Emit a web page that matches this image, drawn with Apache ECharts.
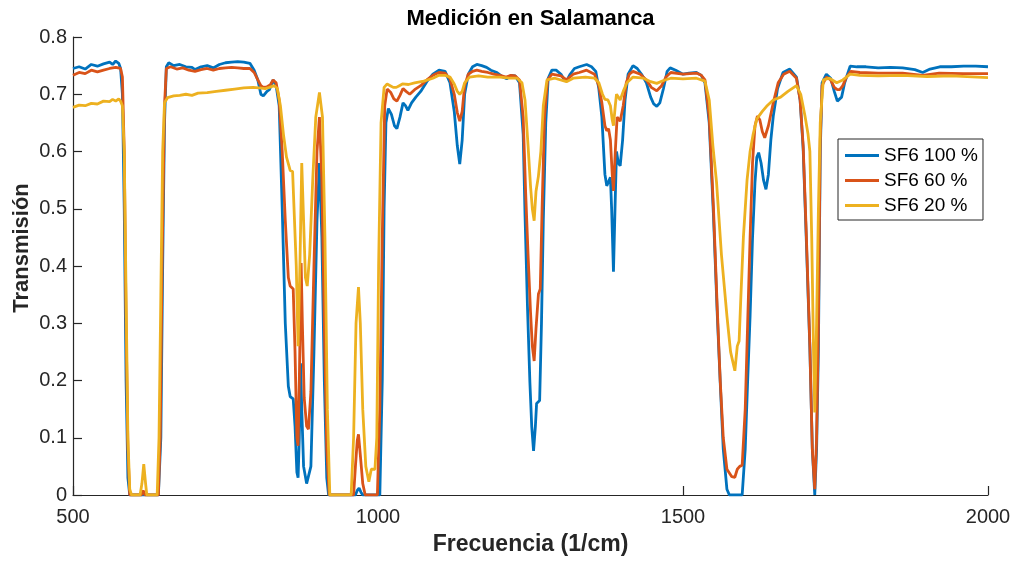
<!DOCTYPE html>
<html>
<head>
<meta charset="utf-8">
<script src="https://cdn.jsdelivr.net/npm/echarts@6/dist/echarts.min.js"></script>
<style>html,body{margin:0;padding:0;background:#fff}#c{width:1014px;height:561px}</style>
</head>
<body>
<div id="c"></div>
<script>
const seriesNames = ['SF6 100 %', 'SF6 60 %', 'SF6 20 %'];
const xTicks = [500, 1000, 1500, 2000];
const yTicks = [0, 0.1, 0.2, 0.3, 0.4, 0.5, 0.6, 0.7, 0.8];

const blueX = [500,510,520,530,540,550,560,565,570,575,578,581,584,587,590,593,640,644,647,650,653,657,665,675,685,695,700,710,720,730,740,750,760,770,780,790,797,803,808,812,818,822,828,833,838,843,848,853,856,861,864,867,869,871,873,875,878,883,886,890,895,900,904,908,912,916,919,963,966,969,972,975,1003,1007,1010,1013,1017,1022,1027,1031,1036,1041,1045,1049,1055,1062,1070,1080,1090,1100,1110,1118,1125,1130,1134,1138,1142,1148,1155,1162,1170,1178,1185,1195,1205,1211,1218,1225,1232,1238,1241,1245,1249,1252,1255,1258,1260,1265,1268,1271,1275,1279,1285,1292,1300,1305,1309,1315,1322,1330,1342,1350,1357,1362,1367,1372,1375,1378,1381,1383,1386,1389,1391,1394,1397,1401,1405,1410,1418,1425,1432,1440,1447,1452,1457,1462,1468,1474,1479,1488,1500,1510,1522,1530,1536,1543,1550,1556,1561,1566,1572,1576,1597,1602,1606,1610,1614,1618,1621,1624,1628,1632,1636,1640,1644,1648,1655,1664,1675,1686,1692,1697,1702,1708,1712,1716,1719,1722,1725,1728,1735,1742,1748,1753,1756,1760,1765,1774,1785,1800,1820,1840,1860,1880,1893,1905,1921,1940,1960,1980,2000];
const blueY = [0.745,0.748,0.744,0.752,0.749,0.753,0.756,0.752,0.758,0.754,0.745,0.70,0.5,0.2,0.03,0,0,0.1,0.4,0.65,0.748,0.755,0.750,0.752,0.748,0.747,0.743,0.748,0.750,0.746,0.752,0.755,0.756,0.757,0.756,0.754,0.742,0.725,0.700,0.697,0.705,0.708,0.725,0.715,0.68,0.5,0.3,0.19,0.172,0.168,0.12,0.04,0.03,0.1,0.23,0.15,0.05,0.02,0.018,0.05,0.25,0.48,0.58,0.45,0.2,0.03,0,0,0.008,0.012,0.005,0,0,0.2,0.5,0.65,0.675,0.665,0.645,0.640,0.66,0.685,0.68,0.672,0.685,0.695,0.705,0.722,0.735,0.742,0.74,0.72,0.67,0.61,0.578,0.62,0.70,0.735,0.748,0.752,0.75,0.747,0.742,0.738,0.73,0.727,0.733,0.732,0.72,0.63,0.49,0.33,0.197,0.12,0.077,0.12,0.16,0.165,0.3,0.48,0.65,0.728,0.742,0.742,0.735,0.726,0.723,0.735,0.745,0.748,0.752,0.748,0.74,0.71,0.66,0.56,0.54,0.54,0.555,0.50,0.39,0.52,0.60,0.58,0.575,0.62,0.69,0.735,0.75,0.745,0.735,0.72,0.695,0.683,0.679,0.685,0.71,0.74,0.746,0.742,0.735,0.737,0.738,0.733,0.72,0.65,0.487,0.32,0.197,0.08,0.01,0,0,0.08,0.2,0.313,0.45,0.546,0.59,0.598,0.58,0.55,0.534,0.56,0.62,0.662,0.71,0.738,0.744,0.73,0.69,0.604,0.45,0.255,0.08,0,0.08,0.255,0.6,0.72,0.735,0.728,0.705,0.688,0.685,0.695,0.72,0.749,0.748,0.748,0.746,0.747,0.746,0.743,0.738,0.744,0.748,0.748,0.749,0.749,0.748];

const redX = [500,510,520,530,540,550,560,570,578,581,584,587,590,593,612,615,618,640,643,646,650,653,660,670,680,690,700,710,720,730,740,750,760,770,780,790,797,803,808,812,818,823,828,833,838,843,848,853,856,861,864,867,869,871,874,876,879,883,886,890,895,900,904,908,912,916,920,960,963,966,968,971,975,979,999,1003,1007,1011,1015,1021,1026,1031,1036,1041,1046,1052,1060,1070,1080,1090,1100,1110,1118,1125,1130,1134,1138,1142,1148,1155,1162,1170,1180,1190,1200,1210,1218,1225,1232,1238,1242,1246,1250,1253,1256,1259,1263,1266,1269,1273,1278,1285,1300,1309,1320,1330,1342,1355,1362,1367,1372,1375,1378,1381,1384,1386,1389,1392,1397,1402,1407,1412,1418,1430,1440,1448,1457,1465,1472,1480,1500,1522,1530,1536,1543,1550,1556,1561,1566,1572,1580,1585,1589,1593,1597,1602,1606,1610,1614,1618,1622,1626,1630,1634,1640,1648,1656,1665,1675,1686,1692,1697,1702,1708,1712,1716,1719,1722,1725,1728,1735,1742,1748,1753,1757,1762,1768,1775,1790,1820,1860,1893,1920,1960,2000];
const redY = [0.733,0.738,0.736,0.742,0.739,0.742,0.745,0.747,0.745,0.73,0.6,0.3,0.08,0,0,0.008,0,0,0.1,0.4,0.68,0.745,0.748,0.744,0.746,0.742,0.74,0.743,0.745,0.742,0.745,0.746,0.747,0.746,0.745,0.745,0.738,0.725,0.715,0.712,0.713,0.716,0.725,0.72,0.69,0.6,0.48,0.38,0.365,0.36,0.25,0.1,0.086,0.2,0.405,0.3,0.17,0.12,0.115,0.18,0.4,0.6,0.66,0.55,0.3,0.08,0,0,0.05,0.095,0.106,0.07,0.02,0,0,0.15,0.45,0.68,0.709,0.703,0.692,0.688,0.698,0.71,0.705,0.70,0.708,0.715,0.725,0.733,0.738,0.737,0.727,0.70,0.668,0.653,0.67,0.715,0.735,0.74,0.742,0.74,0.738,0.735,0.733,0.73,0.733,0.732,0.725,0.66,0.53,0.42,0.32,0.26,0.234,0.29,0.351,0.36,0.5,0.66,0.725,0.735,0.732,0.725,0.735,0.738,0.742,0.735,0.715,0.685,0.645,0.636,0.64,0.62,0.56,0.531,0.6,0.66,0.653,0.68,0.72,0.735,0.74,0.735,0.725,0.712,0.706,0.715,0.73,0.738,0.735,0.737,0.733,0.725,0.66,0.5,0.33,0.2,0.1,0.045,0.032,0.031,0.045,0.05,0.052,0.15,0.3,0.45,0.58,0.645,0.662,0.655,0.635,0.624,0.645,0.685,0.72,0.735,0.74,0.728,0.69,0.61,0.46,0.26,0.08,0.01,0.1,0.3,0.62,0.715,0.73,0.725,0.712,0.708,0.708,0.715,0.73,0.74,0.738,0.737,0.737,0.733,0.737,0.736,0.736];

const yellowX = [500,510,520,530,540,550,560,565,570,575,578,581,584,587,590,593,596,610,613,616,619,621,638,641,644,647,650,655,665,675,685,695,705,720,735,750,765,780,795,805,815,822,830,835,840,845,850,854,856,860,863,866,869,872,875,878,881,884,888,893,898,904,909,913,917,921,956,960,964,968,971,975,980,985,989,995,998,1001,1005,1010,1015,1020,1025,1030,1035,1040,1050,1060,1075,1090,1100,1110,1118,1125,1130,1134,1138,1142,1150,1165,1180,1200,1215,1228,1236,1241,1246,1250,1253,1256,1259,1263,1267,1271,1277,1290,1309,1320,1340,1355,1362,1368,1372,1377,1381,1384,1386,1389,1391,1394,1397,1402,1408,1418,1435,1447,1457,1468,1480,1500,1522,1536,1543,1549,1555,1563,1572,1578,1585,1589,1592,1595,1599,1605,1610,1615,1621,1630,1637,1648,1660,1672,1686,1693,1700,1705,1708,1711,1714,1716,1719,1722,1725,1730,1740,1752,1762,1774,1790,1820,1860,1900,1940,2000];
const yellowY = [0.677,0.681,0.680,0.684,0.683,0.688,0.687,0.691,0.688,0.692,0.688,0.68,0.6,0.35,0.1,0.01,0,0,0.02,0.054,0.02,0,0,0.1,0.35,0.6,0.685,0.694,0.697,0.698,0.700,0.698,0.702,0.703,0.705,0.707,0.709,0.711,0.712,0.711,0.710,0.712,0.715,0.71,0.68,0.63,0.59,0.575,0.567,0.565,0.565,0.40,0.26,0.40,0.58,0.48,0.38,0.365,0.42,0.55,0.66,0.703,0.66,0.45,0.15,0,0,0.1,0.3,0.363,0.3,0.15,0.05,0.023,0.045,0.045,0.1,0.4,0.65,0.712,0.718,0.715,0.712,0.712,0.715,0.718,0.717,0.72,0.723,0.728,0.733,0.733,0.73,0.718,0.705,0.70,0.705,0.72,0.73,0.732,0.73,0.73,0.728,0.728,0.72,0.69,0.61,0.54,0.50,0.479,0.53,0.557,0.6,0.68,0.725,0.728,0.722,0.728,0.73,0.728,0.72,0.70,0.691,0.69,0.68,0.655,0.645,0.68,0.70,0.695,0.69,0.705,0.72,0.73,0.728,0.722,0.719,0.724,0.728,0.727,0.728,0.723,0.69,0.61,0.546,0.42,0.313,0.25,0.217,0.26,0.269,0.35,0.45,0.55,0.60,0.63,0.657,0.67,0.679,0.69,0.695,0.705,0.715,0.70,0.662,0.63,0.60,0.45,0.25,0.144,0.3,0.5,0.65,0.725,0.728,0.72,0.725,0.735,0.733,0.732,0.733,0.731,0.732,0.729];

const colors = ['#0072BD', '#D95319', '#EDB120'];
const font = "'Liberation Sans', Arial, Helvetica, sans-serif";
const axisColor = '#262626';

function pairs(xs, ys) { return xs.map((x, i) => [x, ys[i]]); }
const allData = [pairs(blueX, blueY), pairs(redX, redY), pairs(yellowX, yellowY)];

const chart = echarts.init(document.getElementById('c'), null, {renderer: 'canvas'});
chart.setOption({
  animation: false,
  backgroundColor: '#ffffff',
  color: colors,
  title: {
    text: 'Medición en Salamanca',
    left: 530.5,
    textAlign: 'center',
    top: 8,
    padding: 0,
    textStyle: {fontFamily: font, fontSize: 22, fontWeight: 'bold', color: '#000'}
  },
  legend: {
    orient: 'vertical',
    left: 838,
    top: 139,
    data: seriesNames,
    icon: 'rect',
    itemWidth: 34,
    itemHeight: 3,
    itemGap: 6,
    padding: [7, 5, 5, 7],
    borderColor: axisColor,
    borderWidth: 1,
    backgroundColor: '#fff',
    textStyle: {fontFamily: font, fontSize: 19, color: '#000', lineHeight: 19}
  },
  grid: {left: 73, right: 26, top: 37, bottom: 65, containLabel: false},
  xAxis: {
    type: 'value',
    min: xTicks[0],
    max: xTicks[xTicks.length - 1],
    interval: 500,
    name: 'Frecuencia (1/cm)',
    nameLocation: 'middle',
    nameGap: 38,
    nameTextStyle: {fontFamily: font, fontSize: 23, fontWeight: 'bold', color: axisColor},
    axisLine: {show: true, onZero: false, lineStyle: {color: axisColor, width: 1.2}},
    axisTick: {show: true, inside: true, length: 9, lineStyle: {color: axisColor, width: 1.2}},
    axisLabel: {fontFamily: font, fontSize: 20, color: axisColor, margin: 12,
      formatter: v => String(Math.round(v))},
    splitLine: {show: false}
  },
  yAxis: {
    type: 'value',
    min: yTicks[0],
    max: yTicks[yTicks.length - 1],
    interval: 0.1,
    name: 'Transmisión',
    nameLocation: 'middle',
    nameGap: 40,
    nameMoveOverlap: false,
    nameTextStyle: {fontFamily: font, fontSize: 22, fontWeight: 'bold', color: axisColor, padding: [0, 0, 0, 36]},
    axisLine: {show: true, onZero: false, lineStyle: {color: axisColor, width: 1.2}},
    axisTick: {show: true, inside: true, length: 9, lineStyle: {color: axisColor, width: 1.2}},
    axisLabel: {fontFamily: font, fontSize: 20, color: axisColor, margin: 6,
      formatter: v => (Math.abs(v) < 1e-9 ? '0' : v.toFixed(1))},
    splitLine: {show: false}
  },
  series: seriesNames.map((name, i) => ({
    name: name,
    type: 'line',
    data: allData[i],
    showSymbol: false,
    symbol: 'none',
    smooth: false,
    lineStyle: {width: 2.8, color: colors[i]},
    itemStyle: {color: colors[i]},
    clip: true,
    z: 2 + i
  }))
});
</script>
</body>
</html>
